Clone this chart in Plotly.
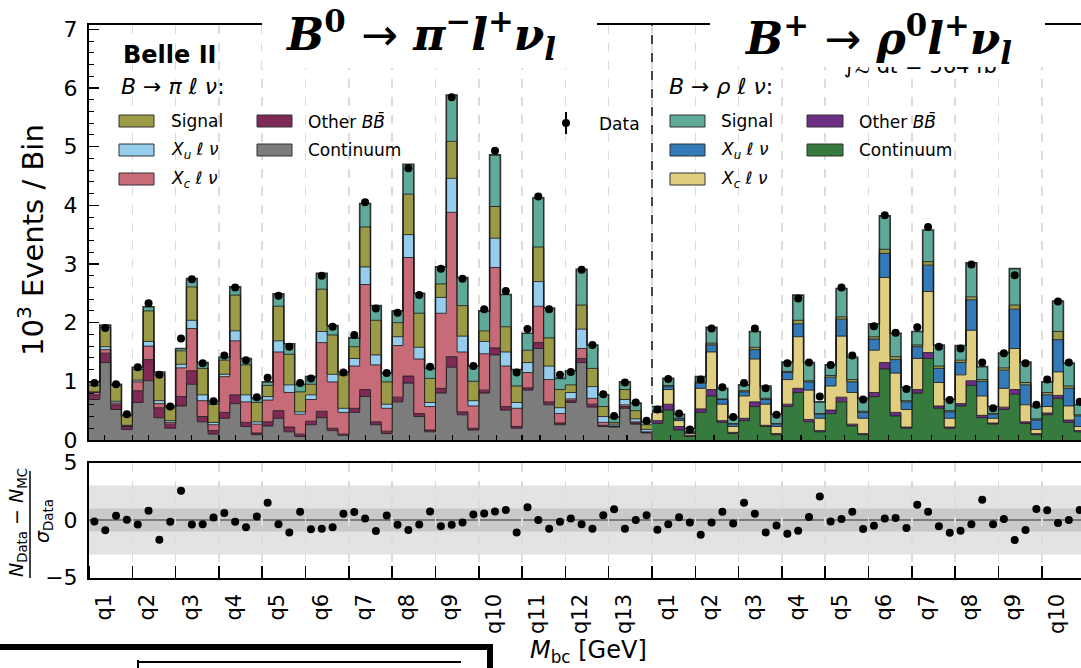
import plotly.graph_objects as go

W, H = 1081, 668
def PX(x):
    return x / W
def PY(y):
    return 1 - y / H

# ---------------- data (10^3 events / bin), 4 Mbc bins per q^2 bin ----------------
# B -> pi l nu sample: cumulative stack levels
pi_cont = [0.69,1.32,0.52,0.18, 0.64,1.01,0.38,0.20, 0.58,0.95,0.31,0.10, 0.37,0.62,0.23,0.09,
           0.24,0.37,0.14,0.06, 0.26,0.38,0.16,0.08, 0.47,0.74,0.26,0.11, 0.65,0.97,0.40,0.14,
           0.80,1.24,0.43,0.17, 0.80,1.45,0.51,0.20, 0.85,1.56,0.60,0.26, 0.64,1.32,0.56,0.23,
           0.22,0.54,0.27,0.12]
pi_other = [0.77,1.48,0.60,0.23, 0.84,1.37,0.55,0.27, 0.74,1.18,0.40,0.16, 0.47,0.77,0.30,0.12,
            0.31,0.50,0.22,0.10, 0.32,0.49,0.20,0.10, 0.54,0.86,0.31,0.15, 0.73,1.09,0.45,0.17,
            0.88,1.42,0.48,0.20, 0.85,1.57,0.57,0.23, 0.89,1.66,0.65,0.29, 0.67,1.39,0.61,0.25,
            0.23,0.57,0.29,0.13]
pi_xc = [0.81,1.54,0.63,0.24, 0.99,1.60,0.62,0.30, 1.23,1.90,0.67,0.26, 1.08,1.69,0.65,0.27,
         0.68,1.50,0.81,0.44, 0.69,1.66,0.99,0.47, 1.26,2.65,1.28,0.54, 1.61,3.11,1.38,0.57,
         2.16,3.88,1.50,0.58, 1.47,2.94,1.26,0.54, 1.15,2.28,1.03,0.45, 0.70,1.56,0.71,0.30,
         0.24,0.60,0.31,0.14]
pi_xu = [0.82,1.59,0.66,0.25, 1.02,1.68,0.67,0.33, 1.29,2.04,0.77,0.30, 1.12,1.86,0.77,0.31,
         0.74,1.69,0.94,0.48, 0.77,1.85,1.12,0.54, 1.39,2.95,1.45,0.61, 1.76,3.50,1.58,0.64,
         2.43,4.46,1.77,0.67, 1.68,3.44,1.50,0.64, 1.32,2.70,1.26,0.55, 0.81,1.89,0.91,0.40,
         0.27,0.69,0.36,0.18]
pi_sig = [0.93,1.92,0.93,0.41, 1.20,2.20,1.11,0.55, 1.52,2.61,1.22,0.61, 1.36,2.47,1.28,0.64,
          0.93,2.28,1.46,0.82, 0.95,2.57,1.79,1.11, 1.59,3.63,2.04,0.99, 2.00,4.19,2.16,1.05,
          2.66,5.09,2.29,1.00, 1.86,3.98,1.93,0.92, 1.53,3.29,1.74,0.86, 0.94,2.30,1.22,0.57,
          0.30,0.86,0.50,0.26]
pi_top = [0.99,1.96,0.95,0.43, 1.24,2.27,1.16,0.58, 1.56,2.75,1.32,0.66, 1.41,2.61,1.39,0.71,
          0.99,2.49,1.64,0.95, 1.08,2.84,1.95,1.16, 1.74,4.03,2.29,1.14, 2.20,4.70,2.50,1.22,
          2.95,5.88,2.77,1.26, 2.20,4.86,2.48,1.20, 1.82,4.13,2.25,1.05, 1.18,2.91,1.62,0.77,
          0.39,0.99,0.63,0.31]
pi_data = [0.97,1.91,0.95,0.44, 1.24,2.33,1.11,0.57, 1.73,2.74,1.31,0.66, 1.44,2.60,1.36,0.73,
           1.06,2.46,1.59,0.97, 1.05,2.80,1.93,1.15, 1.79,4.05,2.24,1.14, 2.17,4.63,2.47,1.25,
           2.92,5.84,2.75,1.26, 2.23,4.93,2.54,1.15, 1.89,4.15,2.23,1.11, 1.16,2.90,1.62,0.78,
           0.41,0.98,0.64,0.33]
pi_pull = [-0.12,-0.90,0.36,0.03, -0.39,0.81,-1.71,-0.15, 2.54,-0.39,-0.36,0.21, 0.60,-0.15,-0.63,0.30,
           1.50,-0.36,-1.08,0.72, -0.81,-0.75,-0.63,0.54, 0.69,0.12,-0.96,0.39, -0.42,-0.87,-0.39,0.75,
           -0.54,-0.42,-0.21,0.48, 0.57,0.75,0.87,-1.08, 1.11,0.00,-0.75,-0.15, 0.12,-0.36,-0.75,0.42,
           0.93,-0.75,0.00,0.42]

# B -> rho l nu sample: cumulative stack levels
rho_cont = [0.28,0.51,0.17,0.06, 0.47,0.75,0.30,0.11, 0.33,0.57,0.23,0.09, 0.57,0.81,0.31,0.14,
            0.45,0.65,0.24,0.09, 0.74,1.21,0.41,0.20, 0.80,1.39,0.54,0.20, 0.58,0.93,0.38,0.27,
            0.52,0.78,0.28,0.09, 0.43,0.71,0.30,0.14]
rho_other = [0.33,0.61,0.23,0.08, 0.53,0.86,0.33,0.13, 0.37,0.65,0.25,0.11, 0.61,0.88,0.35,0.16,
             0.51,0.73,0.27,0.11, 0.81,1.32,0.47,0.22, 0.86,1.49,0.58,0.22, 0.62,1.01,0.42,0.29,
             0.56,0.86,0.31,0.11, 0.46,0.76,0.34,0.16]
rho_xc = [0.47,0.86,0.33,0.11, 0.88,1.50,0.61,0.23, 0.75,1.38,0.61,0.23, 1.03,1.76,0.85,0.37,
          0.92,1.77,0.81,0.37, 1.53,2.77,1.14,0.52, 1.39,2.53,0.98,0.37, 1.11,1.87,0.75,0.37,
          0.88,1.56,0.60,0.18, 0.57,1.16,0.58,0.23]
rho_xu = [0.49,0.91,0.36,0.13, 0.97,1.62,0.69,0.27, 0.82,1.54,0.69,0.27, 1.15,1.98,0.99,0.44,
          1.07,2.06,0.99,0.47, 1.72,3.18,1.37,0.65, 1.59,2.98,1.22,0.48, 1.32,2.39,1.00,0.44,
          1.19,2.23,0.94,0.34, 0.77,1.71,0.88,0.41]
rho_pisig = [0.50,0.93,0.37,0.14, 0.99,1.65,0.70,0.28, 0.84,1.58,0.71,0.28, 1.17,2.04,1.01,0.45,
             1.10,2.10,1.03,0.49, 1.76,3.25,1.42,0.67, 1.62,3.04,1.26,0.50, 1.36,2.44,1.03,0.45,
             1.23,2.30,0.98,0.36, 0.81,1.85,0.92,0.43]
rho_top = [0.57,1.05,0.44,0.20, 1.08,1.92,0.88,0.39, 0.94,1.85,0.92,0.44, 1.33,2.47,1.32,0.65,
           1.28,2.58,1.41,0.71, 1.98,3.82,1.82,0.90, 1.85,3.58,1.62,0.69, 1.61,3.02,1.25,0.57,
           1.48,2.92,1.33,0.57, 0.99,2.37,1.31,0.60]
rho_data = [0.52,1.04,0.45,0.18, 1.03,1.90,0.90,0.39, 0.97,1.90,0.88,0.43, 1.31,2.41,1.32,0.74,
            1.28,2.60,1.44,0.69, 1.94,3.83,1.83,0.87, 1.92,3.63,1.59,0.68, 1.56,2.99,1.32,0.54,
            1.48,2.81,1.31,0.60, 1.03,2.36,1.32,0.65]
rho_pull = [-0.84,-0.36,0.24,-0.21, -1.29,-0.21,0.72,-0.30, 1.50,0.54,-1.08,-0.48, -1.20,-0.93,0.27,2.04,
            -0.12,0.09,0.72,-0.78, -0.51,0.12,0.18,-0.69, 1.32,0.72,-0.54,-1.11, -0.93,-0.36,1.77,-0.36,
            0.09,-1.74,-0.87,0.96, 0.84,-0.27,0.00,0.87]

pi_labels = ["q%d" % k for k in range(1, 14)]
rho_labels = ["q%d" % k for k in range(1, 11)]

# ---------------- styles ----------------
pi_colors = ["#7c7c7c", "#7f2a56", "#c86b78", "#96cdec", "#9b9b47", "#5faa99"]
rho_colors = ["#377a3d", "#6d2e86", "#e0cf80", "#337ab8", "#9b9b47", "#5faa99"]
EDGE = "rgba(25,25,25,0.85)"
FONT = "DejaVu Sans"

n_pi = len(pi_cont)
n_rho = len(rho_cont)
XMAX = (1081 - 89) / ((652 - 89) / 52.0)

fig = go.Figure()

def add_stack(levels, colors, x0):
    n = len(levels[0])
    xs = [x0 + i for i in range(n + 1)]
    for k, (lv, col) in enumerate(zip(levels, colors)):
        fig.add_trace(go.Scatter(
            x=xs, y=list(lv) + [lv[-1]], mode="lines",
            line=dict(shape="hv", color=EDGE, width=1.6 if k == len(levels) - 1 else 1),
            fill="tozeroy" if k == 0 else "tonexty", fillcolor=col,
            showlegend=False, hoverinfo="skip", xaxis="x", yaxis="y"))

add_stack([pi_cont, pi_other, pi_xc, pi_xu, pi_sig, pi_top], pi_colors, 0)
add_stack([rho_cont, rho_other, rho_xc, rho_xu, rho_pisig, rho_top], rho_colors, n_pi)

centers_pi = [i + 0.5 for i in range(n_pi)]
centers_rho = [n_pi + i + 0.5 for i in range(n_rho)]

fig.add_trace(go.Scatter(x=centers_pi + centers_rho, y=pi_data + rho_data, mode="markers",
                         marker=dict(color="black", size=8), showlegend=False,
                         hoverinfo="skip", xaxis="x", yaxis="y"))
fig.add_trace(go.Scatter(x=centers_pi + centers_rho, y=pi_pull + rho_pull, mode="markers",
                         marker=dict(color="black", size=8), showlegend=False,
                         hoverinfo="skip", xaxis="x2", yaxis="y2"))

# ---------------- axes ----------------
nsec = (n_pi + n_rho) // 4
main_ticks = [4 * k + 1.45 + 0.02 * k for k in range(nsec)]
label_pos = [4 * k + 1.4 for k in range(nsec)]

xdom = [PX(89), 1.0]
fig.update_layout(
    width=W, height=H, autosize=False,
    margin=dict(l=0, r=0, t=0, b=0, pad=0),
    paper_bgcolor="white", plot_bgcolor="rgba(0,0,0,0)",
    font=dict(family=FONT, color="black"),
    xaxis=dict(domain=xdom, range=[0, XMAX], anchor="y", showline=True, mirror=True,
               automargin=False,
               linecolor="black", linewidth=2, showgrid=False, zeroline=False,
               tickmode="array", tickvals=main_ticks, ticks="inside", ticklen=5,
               tickwidth=1.2, tickcolor="black", showticklabels=False,
               minor=dict(tick0=0, dtick=4, ticks="inside", ticklen=5, tickwidth=1.2,
                          tickcolor="black", showgrid=True, gridcolor="#dcdcdc",
                          griddash="dash", gridwidth=1.6)),
    yaxis=dict(domain=[PY(440), PY(25)], range=[0, 7.073], anchor="x", showline=True,
               automargin=False,
               linecolor="black", linewidth=2, showgrid=False, zeroline=False,
               tickmode="array", tickvals=[0, 1, 2, 3, 4, 5, 6, 7], ticks="inside",
               ticklen=10, tickwidth=1.5, tickcolor="black", tickfont=dict(size=22),
               ticklabelstandoff=5,
               minor=dict(dtick=0.2, ticks="inside", ticklen=5, tickwidth=1, tickcolor="black")),
    xaxis2=dict(domain=xdom, range=[0, XMAX], anchor="y2", matches="x", showline=True,
                automargin=False,
                mirror=True, linecolor="black", linewidth=2, showgrid=False, zeroline=False,
                tickmode="array", tickvals=label_pos, ticktext=pi_labels + rho_labels,
                ticks="", tickangle=-90, tickfont=dict(size=21), ticklabelstandoff=6,
                minor=dict(tick0=0, dtick=4, ticks="inside", ticklen=12, tickwidth=1.5,
                           tickcolor="black", showgrid=True, gridcolor="#dcdcdc",
                           griddash="dash", gridwidth=1.6)),
    yaxis2=dict(domain=[PY(577.5), PY(462.5)], range=[-5, 5], anchor="x2", showline=True,
                automargin=False,
                linecolor="black", linewidth=2, showgrid=False, zeroline=False,
                tickmode="array", tickvals=[-5, 0, 5], ticks="", tickfont=dict(size=22),
                ticklabelstandoff=5),
)

shapes = []
# ratio bands
shapes.append(dict(type="rect", xref="x2", yref="y2", x0=0, x1=100, y0=-3, y1=3,
                   fillcolor="#e3e3e3", line=dict(width=0), layer="below"))
shapes.append(dict(type="rect", xref="x2", yref="y2", x0=0, x1=100, y0=-1, y1=1,
                   fillcolor="#c9c9c9", line=dict(width=0), layer="below"))
shapes.append(dict(type="line", xref="x2", yref="y2", x0=0, x1=100, y0=0, y1=0,
                   line=dict(color="#7a7a7a", width=2), layer="below"))
# separator between samples
shapes.append(dict(type="line", xref="x", yref="y", x0=n_pi, x1=n_pi, y0=0, y1=7.07,
                   line=dict(color="#444444", width=2, dash="dash"), layer="above"))

# legend patches
def patch(x0, x1, y0, y1, col):
    shapes.append(dict(type="rect", xref="paper", yref="paper", x0=PX(x0), x1=PX(x1),
                       y0=PY(y1), y1=PY(y0), fillcolor=col,
                       line=dict(color="#333333", width=1)))

rows = [(115, 127), (144, 156), (173, 185)]
patch(119, 154, *rows[0], pi_colors[4])
patch(119, 154, *rows[1], pi_colors[3])
patch(119, 154, *rows[2], pi_colors[2])
patch(257, 292, *rows[0], pi_colors[1])
patch(257, 292, *rows[1], pi_colors[0])
patch(670, 705, *rows[0], rho_colors[5])
patch(670, 705, *rows[1], rho_colors[3])
patch(670, 705, *rows[2], rho_colors[2])
patch(807, 843, *rows[0], rho_colors[1])
patch(807, 843, *rows[1], rho_colors[0])
# data legend symbol
shapes.append(dict(type="line", xref="paper", yref="paper", x0=PX(566), x1=PX(566),
                   y0=PY(134), y1=PY(112), line=dict(color="black", width=2)))
shapes.append(dict(type="circle", xref="paper", yref="paper", x0=PX(562), x1=PX(570),
                   y0=PY(127), y1=PY(119), fillcolor="black", line=dict(color="black", width=0)))
# fraction bar of ratio y-title
shapes.append(dict(type="line", xref="paper", yref="paper", x0=PX(30), x1=PX(30),
                   y0=PY(578), y1=PY(471), line=dict(color="black", width=1.5)))
# bottom-left overlay frame
shapes.append(dict(type="line", xref="paper", yref="paper", x0=0, x1=PX(493),
                   y0=PY(647), y1=PY(647), line=dict(color="black", width=6)))
shapes.append(dict(type="line", xref="paper", yref="paper", x0=PX(490), x1=PX(490),
                   y0=PY(645), y1=0, line=dict(color="black", width=6)))
shapes.append(dict(type="line", xref="paper", yref="paper", x0=PX(137), x1=PX(461),
                   y0=PY(662), y1=PY(662), line=dict(color="black", width=2)))
shapes.append(dict(type="line", xref="paper", yref="paper", x0=PX(138), x1=PX(138),
                   y0=PY(660), y1=0, line=dict(color="black", width=2)))
fig.update_layout(shapes=shapes)

anns = []
def ann(text, x, y, size, xanchor="left", yanchor="middle", **kw):
    d = dict(text=text, x=PX(x), y=PY(y), xref="paper", yref="paper", showarrow=False,
             xanchor=xanchor, yanchor=yanchor, font=dict(size=size, family=kw.pop("family", FONT),
                                                          color="black"))
    d.update(kw)
    anns.append(d)

ann("<b>Belle II</b>", 121, 55, 24)
ann("<i>B</i> → <i>π ℓ ν</i>:", 119, 87, 22)
ann("Signal", 169, 121, 17)
ann("<i>X<sub>u</sub> ℓ ν</i>", 169, 150, 17)
ann("<i>X<sub>c</sub> ℓ ν</i>", 169, 179, 17)
ann("Other <i>BB̄</i>", 306, 121, 17)
ann("Continuum", 306, 150, 17)
ann("Data", 597, 124, 17)
ann("<i>B</i> → <i>ρ ℓ ν</i>:", 667, 87, 22)
ann("Signal", 719, 121, 17)
ann("<i>X<sub>u</sub> ℓ ν</i>", 719, 150, 17)
ann("<i>X<sub>c</sub> ℓ ν</i>", 719, 179, 17)
ann("Other <i>BB̄</i>", 857, 121, 17)
ann("Continuum", 857, 150, 17)
# axis titles
ann("10<sup>3</sup> Events / Bin", 31, 240, 29, xanchor="center", textangle=-90)
ann("<i>N</i><sub>Data</sub> − <i>N</i><sub>MC</sub>", 17, 523, 19, xanchor="center", textangle=-90)
ann("<i>σ</i><sub>Data</sub>", 43, 521, 19, xanchor="center", textangle=-90)
ann("<i>M</i><sub>bc</sub> [GeV]", 588, 651, 24, xanchor="center")
# luminosity text (mostly hidden behind title box)
ann("∫<i>ℒ</i> d<i>t</i> = 364 fb<sup>−1</sup>", 842, 80, 21, yanchor="bottom")
# white title boxes
anns.append(dict(text=" ", x=PX(262), y=1, xref="paper", yref="paper", showarrow=False,
                 xanchor="left", yanchor="top", width=335, height=68, bgcolor="white",
                 borderpad=0, borderwidth=0))
anns.append(dict(text=" ", x=PX(710), y=1, xref="paper", yref="paper", showarrow=False,
                 xanchor="left", yanchor="top", width=335, height=67, bgcolor="white",
                 borderpad=0, borderwidth=0))
ARROW = "<span style=\"font-family:'DejaVu Sans';font-weight:normal\">→</span>"
ann("<b><i>B</i><sup>0</sup> " + ARROW + " <i>π</i><sup>−</sup><i>l</i><sup>+</sup><i>ν</i><sub><i>l</i></sub></b>",
    420, 35, 44, xanchor="center", family="DejaVu Serif")
ann("<b><i>B</i><sup>+</sup> " + ARROW + " <i>ρ</i><sup>0</sup><i>l</i><sup>+</sup><i>ν</i><sub><i>l</i></sub></b>",
    878, 39, 44, xanchor="center", family="DejaVu Serif")
fig.update_layout(annotations=anns)

fig.write_html("out.html", config={"displayModeBar": False, "staticPlot": True},
               post_script="document.body.style.margin='0px';document.body.style.overflow='hidden';")
